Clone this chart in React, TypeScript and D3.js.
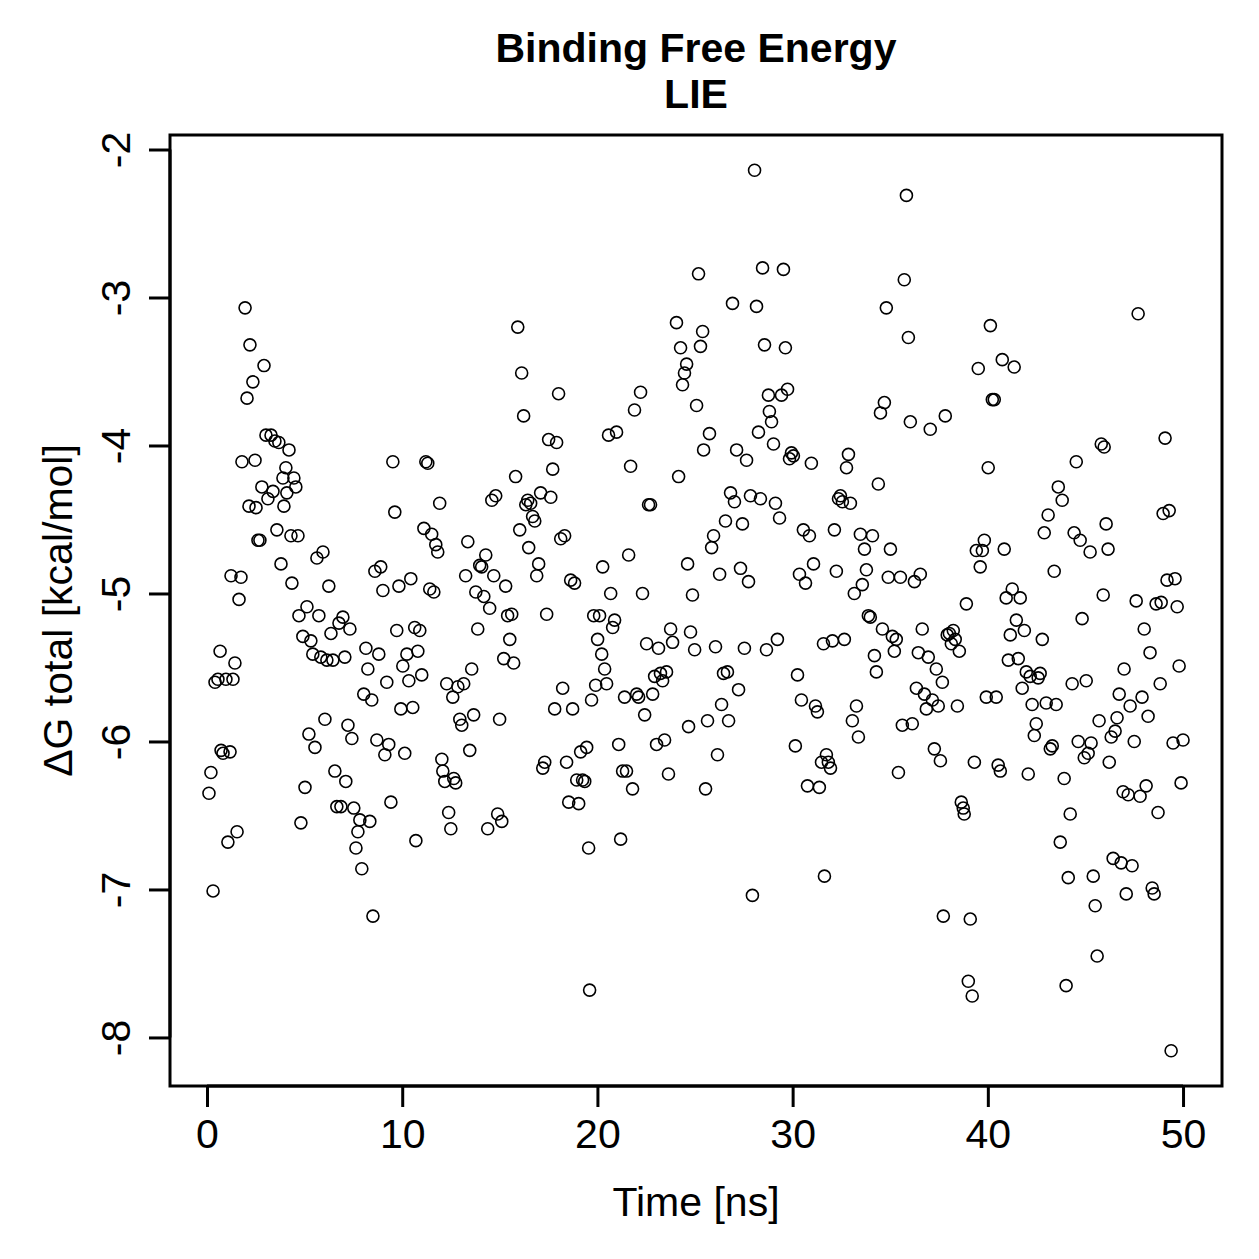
import React, { useRef, useEffect } from "react";
import * as d3 from "d3";

// [time (ns), ΔG total (kcal/mol)]
const lieSamples: [number, number][] = [
  [0.10,-6.35],[0.20,-6.21],[0.31,-7.01],[0.41,-5.60],[0.56,-5.58],[0.67,-5.39],[0.72,-6.06],[0.82,-6.08],[0.97,-5.58],[1.07,-6.68],
  [1.18,-6.07],[1.23,-4.88],[1.33,-5.58],[1.43,-5.47],[1.54,-6.61],[1.64,-5.04],[1.74,-4.89],[1.79,-4.11],[1.95,-3.07],[2.05,-3.68],
  [2.15,-4.41],[2.20,-3.32],[2.35,-3.57],[2.46,-4.10],[2.51,-4.42],[2.61,-4.64],[2.71,-4.64],[2.81,-4.28],[2.92,-3.46],[3.02,-3.93],
  [3.12,-4.36],[3.28,-3.93],[3.38,-4.31],[3.48,-3.97],[3.58,-4.57],[3.68,-3.98],[3.79,-4.80],[3.89,-4.22],[3.94,-4.41],[4.04,-4.15],
  [4.09,-4.32],[4.20,-4.03],[4.30,-4.61],[4.35,-4.93],[4.45,-4.22],[4.55,-4.28],[4.66,-4.61],[4.71,-5.15],[4.81,-6.55],[4.91,-5.29],
  [5.02,-6.31],[5.12,-5.09],[5.22,-5.95],[5.32,-5.32],[5.42,-5.41],[5.53,-6.04],[5.63,-4.76],[5.73,-5.15],[5.83,-5.43],[5.94,-4.72],
  [6.04,-5.85],[6.14,-5.45],[6.24,-4.95],[6.35,-5.27],[6.45,-5.45],[6.55,-6.20],[6.65,-6.44],[6.76,-5.20],[6.86,-6.44],[6.96,-5.16],
  [7.06,-5.43],[7.11,-6.27],[7.22,-5.89],[7.32,-5.24],[7.42,-5.98],[7.52,-6.45],[7.63,-6.72],[7.73,-6.61],[7.83,-6.53],[7.93,-6.86],
  [8.03,-5.68],[8.14,-5.37],[8.24,-5.51],[8.34,-6.54],[8.44,-5.72],[8.50,-7.18],[8.60,-4.85],[8.70,-5.99],[8.80,-5.41],[8.90,-4.82],
  [9.01,-4.98],[9.11,-6.09],[9.21,-5.60],[9.31,-6.02],[9.42,-6.41],[9.52,-4.11],[9.62,-4.45],[9.72,-5.25],[9.83,-4.95],[9.93,-5.78],
  [10.03,-5.49],[10.13,-6.08],[10.24,-5.41],[10.34,-5.59],[10.44,-4.90],[10.54,-5.77],[10.64,-5.23],[10.70,-6.67],[10.80,-5.39],[10.90,-5.25],
  [11.00,-5.55],[11.11,-4.56],[11.21,-4.11],[11.31,-4.12],[11.41,-4.97],[11.51,-4.60],[11.62,-4.99],[11.72,-4.67],[11.82,-4.72],[11.92,-4.39],
  [12.03,-6.12],[12.08,-6.20],[12.18,-6.27],[12.28,-5.61],[12.38,-6.48],[12.49,-6.59],[12.59,-5.70],[12.64,-6.25],[12.74,-6.28],[12.85,-5.63],
  [12.95,-5.85],[13.05,-5.89],[13.15,-5.61],[13.25,-4.88],[13.36,-4.65],[13.46,-6.06],[13.56,-5.51],[13.66,-5.82],[13.77,-4.99],[13.87,-5.24],
  [13.97,-4.81],[14.07,-4.82],[14.18,-5.02],[14.28,-4.74],[14.38,-6.59],[14.48,-5.10],[14.59,-4.37],[14.69,-4.88],[14.79,-4.34],[14.89,-6.49],
  [14.99,-5.85],[15.10,-6.54],[15.20,-5.44],[15.30,-4.95],[15.40,-5.15],[15.51,-5.31],[15.61,-5.14],[15.71,-5.47],[15.81,-4.21],[15.92,-3.20],
  [16.02,-4.57],[16.12,-3.51],[16.22,-3.80],[16.33,-4.40],[16.43,-4.37],[16.48,-4.69],[16.58,-4.39],[16.68,-4.48],[16.79,-4.51],[16.89,-4.88],
  [16.99,-4.80],[17.09,-4.32],[17.20,-6.18],[17.30,-6.14],[17.40,-5.14],[17.50,-3.96],[17.61,-4.35],[17.71,-4.16],[17.81,-5.78],[17.91,-3.98],
  [18.01,-3.65],[18.12,-4.63],[18.22,-5.64],[18.32,-4.61],[18.42,-6.14],[18.53,-6.41],[18.63,-4.91],[18.73,-5.78],[18.83,-4.93],[18.94,-6.26],
  [19.04,-6.42],[19.14,-6.07],[19.24,-6.26],[19.35,-6.27],[19.45,-6.04],[19.55,-6.72],[19.60,-7.68],[19.70,-5.72],[19.81,-5.15],[19.91,-5.62],
  [20.01,-5.31],[20.11,-5.15],[20.22,-5.41],[20.27,-4.82],[20.37,-5.51],[20.47,-5.61],[20.57,-3.93],[20.68,-5.00],[20.78,-5.23],[20.88,-5.18],
  [20.98,-3.91],[21.09,-6.02],[21.19,-6.66],[21.29,-6.20],[21.39,-5.70],[21.49,-6.20],[21.60,-4.74],[21.70,-4.14],[21.80,-6.32],[21.90,-3.76],
  [22.01,-5.68],[22.11,-5.70],[22.21,-3.64],[22.31,-5.00],[22.42,-5.82],[22.52,-5.34],[22.62,-4.40],[22.72,-4.40],[22.83,-5.68],[22.93,-5.56],
  [23.03,-6.02],[23.13,-5.37],[23.23,-5.54],[23.34,-5.59],[23.44,-5.99],[23.54,-5.53],[23.64,-6.22],[23.75,-5.24],[23.85,-5.33],[24.05,-3.17],
  [24.16,-4.21],[24.26,-3.34],[24.36,-3.59],[24.46,-3.51],[24.57,-3.45],[24.62,-4.80],[24.67,-5.90],[24.77,-5.26],[24.87,-5.01],[24.98,-5.38],
  [25.08,-3.73],[25.18,-2.84],[25.28,-3.33],[25.39,-3.23],[25.44,-4.03],[25.54,-6.32],[25.64,-5.86],[25.74,-3.92],[25.85,-4.69],[25.95,-4.61],
  [26.05,-5.36],[26.15,-6.09],[26.26,-4.87],[26.36,-5.75],[26.46,-5.54],[26.56,-4.51],[26.66,-5.53],[26.72,-5.86],[26.82,-4.32],[26.92,-3.04],
  [27.02,-4.38],[27.13,-4.03],[27.23,-5.65],[27.33,-4.83],[27.43,-4.53],[27.53,-5.37],[27.64,-4.10],[27.74,-4.92],[27.84,-4.34],[27.94,-7.04],
  [28.05,-2.14],[28.15,-3.06],[28.25,-3.91],[28.35,-4.36],[28.46,-2.80],[28.56,-3.32],[28.66,-5.38],[28.76,-3.66],[28.81,-3.77],[28.92,-3.84],
  [29.02,-3.99],[29.12,-4.39],[29.22,-5.31],[29.33,-4.49],[29.43,-3.66],[29.53,-2.81],[29.63,-3.34],[29.74,-3.62],[29.84,-4.09],[29.94,-4.05],
  [30.04,-4.07],[30.14,-6.03],[30.25,-5.55],[30.35,-4.87],[30.45,-5.72],[30.55,-4.57],[30.66,-4.93],[30.76,-6.30],[30.86,-4.61],[30.96,-4.12],
  [31.07,-4.80],[31.17,-5.76],[31.27,-5.80],[31.37,-6.31],[31.48,-6.14],[31.58,-5.34],[31.63,-6.91],[31.73,-6.09],[31.83,-6.14],[31.94,-6.18],
  [32.04,-5.32],[32.14,-4.57],[32.24,-4.85],[32.35,-4.36],[32.45,-4.34],[32.55,-4.38],[32.65,-5.31],[32.76,-4.15],[32.86,-4.06],[32.96,-4.39],
  [33.06,-5.86],[33.16,-5.00],[33.27,-5.76],[33.37,-5.97],[33.47,-4.60],[33.57,-4.94],[33.68,-4.70],[33.78,-4.84],[33.88,-5.15],[33.98,-5.16],
  [34.09,-4.61],[34.19,-5.42],[34.29,-5.53],[34.39,-4.26],[34.50,-3.78],[34.60,-5.24],[34.70,-3.71],[34.80,-3.07],[34.90,-4.89],[35.01,-4.70],
  [35.11,-5.29],[35.21,-5.39],[35.31,-5.31],[35.42,-6.21],[35.52,-4.89],[35.62,-5.89],[35.72,-2.88],[35.83,-2.31],[35.93,-3.27],[36.03,-3.84],
  [36.13,-5.88],[36.24,-4.92],[36.34,-5.64],[36.44,-5.40],[36.54,-4.87],[36.64,-5.24],[36.75,-5.68],[36.85,-5.78],[36.95,-5.43],[37.05,-3.89],
  [37.16,-5.72],[37.26,-6.05],[37.36,-5.51],[37.46,-5.76],[37.57,-6.13],[37.67,-5.60],[37.72,-7.18],[37.82,-3.80],[37.92,-5.28],[38.03,-5.27],
  [38.13,-5.34],[38.23,-5.25],[38.33,-5.31],[38.44,-5.76],[38.54,-5.39],[38.64,-6.41],[38.74,-6.45],[38.79,-6.49],[38.90,-5.07],[39.00,-7.62],
  [39.10,-7.20],[39.20,-7.72],[39.31,-6.14],[39.41,-4.71],[39.51,-3.48],[39.61,-4.82],[39.72,-4.71],[39.82,-4.64],[39.92,-5.70],[40.02,-4.15],
  [40.13,-3.19],[40.23,-3.69],[40.33,-3.69],[40.43,-5.70],[40.53,-6.16],[40.64,-6.20],[40.74,-3.42],[40.84,-4.70],[40.94,-5.03],[41.05,-5.45],
  [41.15,-5.28],[41.25,-4.97],[41.35,-3.47],[41.46,-5.18],[41.56,-5.44],[41.66,-5.03],[41.76,-5.64],[41.87,-5.25],[41.97,-5.53],[42.07,-6.22],
  [42.17,-5.56],[42.27,-5.75],[42.38,-5.96],[42.48,-5.88],[42.58,-5.57],[42.68,-5.54],[42.79,-5.31],[42.89,-4.59],[42.99,-5.74],[43.09,-4.47],
  [43.20,-6.05],[43.30,-6.03],[43.40,-4.85],[43.50,-5.75],[43.61,-4.28],[43.71,-6.68],[43.81,-4.37],[43.91,-6.25],[44.01,-7.65],[44.12,-6.92],
  [44.22,-6.49],[44.32,-5.61],[44.42,-4.59],[44.53,-4.11],[44.63,-6.00],[44.73,-4.64],[44.83,-5.17],[44.94,-6.11],[45.04,-5.59],[45.14,-6.08],
  [45.24,-4.72],[45.29,-6.01],[45.40,-6.91],[45.50,-7.11],[45.60,-7.45],[45.70,-5.86],[45.81,-3.99],[45.91,-5.01],[45.96,-4.01],[46.06,-4.53],
  [46.16,-4.70],[46.22,-6.14],[46.32,-5.97],[46.42,-6.79],[46.52,-5.93],[46.62,-5.84],[46.73,-5.68],[46.83,-6.82],[46.93,-6.34],[46.98,-5.51],
  [47.09,-7.03],[47.19,-6.36],[47.29,-5.76],[47.39,-6.84],[47.50,-6.00],[47.60,-5.05],[47.70,-3.11],[47.80,-6.37],[47.90,-5.70],[48.01,-5.24],
  [48.11,-6.30],[48.21,-5.83],[48.31,-5.40],[48.42,-6.99],[48.52,-7.03],[48.62,-5.07],[48.72,-6.48],[48.83,-5.61],[48.88,-5.06],[48.98,-4.46],
  [49.08,-3.95],[49.18,-4.91],[49.29,-4.44],[49.39,-8.09],[49.49,-6.01],[49.59,-4.90],[49.70,-5.09],[49.80,-5.49],[49.90,-6.28],[50.00,-5.99],
];

const xTicks = [0, 10, 20, 30, 40, 50];
const yTicks = [-8, -7, -6, -5, -4, -3, -2];
const titleLines = ["Binding Free Energy", "LIE"];
const xLabel = "Time [ns]";
const yLabel = "\u0394G total [kcal/mol]";

const FONT = "'Liberation Sans', Arial, Helvetica, sans-serif";

function LiePlot() {
  const svgRef = useRef<SVGSVGElement | null>(null);

  useEffect(() => {
    const width = 1259;
    const height = 1259;
    const box = { left: 170, right: 1222, top: 135, bottom: 1086 };

    const svg = d3.select(svgRef.current);
    svg.selectAll("*").remove();
    svg.attr("width", width).attr("height", height);

    // R-style 4% padding around data range
    const xExt = d3.extent(lieSamples, (d) => d[0]) as [number, number];
    const yExt = d3.extent(lieSamples, (d) => d[1]) as [number, number];
    const xPad = (xExt[1] - xExt[0]) * 0.04;
    const yPad = (yExt[1] - yExt[0]) * 0.04;

    const x = d3.scaleLinear().domain([xExt[0] - xPad, xExt[1] + xPad]).range([box.left, box.right]);
    const y = d3.scaleLinear().domain([yExt[0] - yPad, yExt[1] + yPad]).range([box.bottom, box.top]);

    svg.append("rect").attr("width", width).attr("height", height).attr("fill", "#fff");

    // points
    svg.append("g")
      .selectAll("circle")
      .data(lieSamples)
      .enter()
      .append("circle")
      .attr("cx", (d) => x(d[0]))
      .attr("cy", (d) => y(d[1]))
      .attr("r", 6)
      .attr("fill", "none")
      .attr("stroke", "#000")
      .attr("stroke-width", 1.6);

    // frame
    svg.append("rect")
      .attr("x", box.left)
      .attr("y", box.top)
      .attr("width", box.right - box.left)
      .attr("height", box.bottom - box.top)
      .attr("fill", "none")
      .attr("stroke", "#000")
      .attr("stroke-width", 3);

    // x axis
    const xAxis = svg.append("g")
      .attr("transform", `translate(0,${box.bottom})`)
      .call(d3.axisBottom(x).tickValues(xTicks).tickSize(21).tickPadding(12).tickFormat(d3.format("d")));
    xAxis.select(".domain")
      .attr("d", `M${x(xTicks[0])},0H${x(xTicks[xTicks.length - 1])}`)
      .attr("stroke-width", 3);
    xAxis.selectAll(".tick line").attr("stroke-width", 3);
    xAxis.selectAll(".tick text")
      .attr("font-family", FONT)
      .attr("font-size", 41)
      .attr("fill", "#000");

    // y axis
    const yAxis = svg.append("g")
      .attr("transform", `translate(${box.left},0)`)
      .call(d3.axisLeft(y).tickValues(yTicks).tickSize(21).tickFormat((d) => String(d)));
    yAxis.select(".domain")
      .attr("d", `M0,${y(yTicks[0])}V${y(yTicks[yTicks.length - 1])}`)
      .attr("stroke-width", 3);
    yAxis.selectAll(".tick line").attr("stroke-width", 3);
    yAxis.selectAll(".tick text")
      .attr("x", null)
      .attr("dy", null)
      .attr("transform", "translate(-40,0) rotate(-90)")
      .attr("text-anchor", "middle")
      .attr("font-family", FONT)
      .attr("font-size", 41)
      .attr("fill", "#000");

    // titles
    const cx = (box.left + box.right) / 2;
    svg.append("g")
      .selectAll("text")
      .data(titleLines)
      .enter()
      .append("text")
      .attr("x", cx)
      .attr("y", (_, i) => 62 + i * 46)
      .attr("text-anchor", "middle")
      .attr("font-family", FONT)
      .attr("font-weight", "bold")
      .attr("font-size", 41)
      .text((d) => d);

    svg.append("text")
      .attr("x", cx)
      .attr("y", 1216)
      .attr("text-anchor", "middle")
      .attr("font-family", FONT)
      .attr("font-size", 41)
      .text(xLabel);

    svg.append("text")
      .attr("transform", `translate(72,${(box.top + box.bottom) / 2}) rotate(-90)`)
      .attr("text-anchor", "middle")
      .attr("font-family", FONT)
      .attr("font-size", 41)
      .text(yLabel);
  }, []);

  return <svg ref={svgRef} style={{ position: "absolute", left: 0, top: 0, display: "block" }}></svg>;
}

export default function App() {
  return <LiePlot />;
}
